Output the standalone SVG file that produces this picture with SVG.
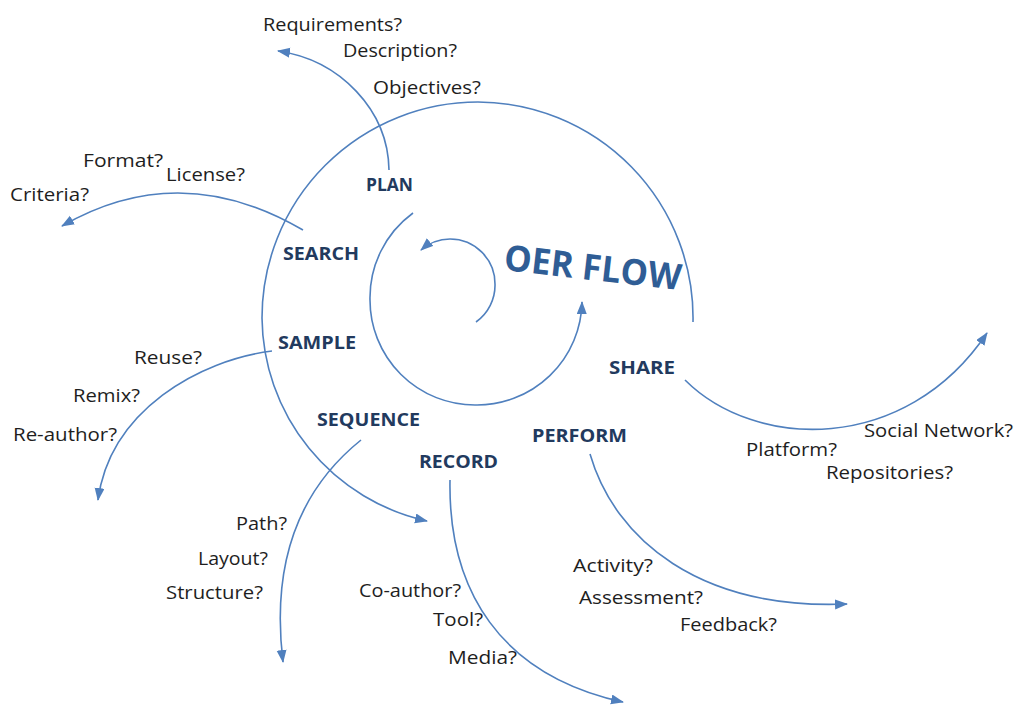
<svg xmlns="http://www.w3.org/2000/svg" width="1014" height="706" viewBox="0 0 1014 706">
  <style>
    .flow { fill: none; stroke: #5080BE; stroke-width: 1.6; }
    .node { font-family: "Open Sans", "Noto Sans", "Liberation Sans", sans-serif; font-weight: bold; font-size: 18.5px; fill: #223A5E; }
    .q { font-family: "Open Sans", "Noto Sans", "Liberation Sans", sans-serif; font-size: 19px; fill: #1E1E1E; }
    .title { font-family: "Open Sans", "Noto Sans", "Liberation Sans", sans-serif; font-weight: bold; font-size: 36px; fill: #2F5D95; }
  </style>
  <defs>
    <marker id="arrow" markerUnits="userSpaceOnUse" markerWidth="14" markerHeight="12" refX="12" refY="5" orient="auto">
      <path d="M0,0 L13,5 L0,10 Z" fill="#5080BE"/>
    </marker>
  </defs>
  <rect width="1014" height="706" fill="#FFFFFF"/>

  <!-- connectors: spiral and branch arrows -->
  <g id="connectors">
    <path class="flow" marker-end="url(#arrow)" d="M476,322 A45,45 0 0 0 495,284 A45,45 0 0 0 450,239 A45,45 0 0 0 421,250"/>
    <path class="flow" marker-end="url(#arrow)" d="M413,213 A105,105 0 0 0 370,300 A105,105 0 0 0 475,405 A105,105 0 0 0 582,302"/>
    <path class="flow" marker-end="url(#arrow)" d="M693,322 A216,216 0 0 0 478,102 A216,216 0 0 0 262,318 A210,210 0 0 0 427,521"/>
    <path class="flow" marker-end="url(#arrow)" d="M389,170 C388,110 340,60 278,51"/>
    <path class="flow" marker-end="url(#arrow)" d="M303,230 Q180,158 62,226"/>
    <path class="flow" marker-end="url(#arrow)" d="M272,351 C200,360 110,410 98,500"/>
    <path class="flow" marker-end="url(#arrow)" d="M361,440 C305,485 270,555 283,662"/>
    <path class="flow" marker-end="url(#arrow)" d="M450,480 C448,590 500,675 623,702"/>
    <path class="flow" marker-end="url(#arrow)" d="M590,454 C615,540 700,610 847,604"/>
    <path class="flow" marker-end="url(#arrow)" d="M685,380 C755,450 905,455 987,333"/>
  </g>

  <g id="title">
    <text class="title" x="503" y="270" transform="rotate(6.5 503 270)" textLength="178" lengthAdjust="spacingAndGlyphs">OER FLOW</text>
  </g>

  <g id="plan">
    <text class="node" x="366" y="191" textLength="47" lengthAdjust="spacingAndGlyphs">PLAN</text>
    <text class="q" x="263" y="31" textLength="139" lengthAdjust="spacingAndGlyphs">Requirements?</text>
    <text class="q" x="343" y="57" textLength="114" lengthAdjust="spacingAndGlyphs">Description?</text>
    <text class="q" x="373" y="94" textLength="108" lengthAdjust="spacingAndGlyphs">Objectives?</text>
  </g>

  <g id="search">
    <text class="node" x="283" y="260" textLength="76" lengthAdjust="spacingAndGlyphs">SEARCH</text>
    <text class="q" x="83" y="167" textLength="80" lengthAdjust="spacingAndGlyphs">Format?</text>
    <text class="q" x="166" y="181" textLength="79" lengthAdjust="spacingAndGlyphs">License?</text>
    <text class="q" x="10" y="201" textLength="79" lengthAdjust="spacingAndGlyphs">Criteria?</text>
  </g>

  <g id="sample">
    <text class="node" x="278" y="349" textLength="78" lengthAdjust="spacingAndGlyphs">SAMPLE</text>
    <text class="q" x="134" y="364" textLength="68" lengthAdjust="spacingAndGlyphs">Reuse?</text>
    <text class="q" x="73" y="402" textLength="67" lengthAdjust="spacingAndGlyphs">Remix?</text>
    <text class="q" x="13" y="441" textLength="104" lengthAdjust="spacingAndGlyphs">Re-author?</text>
  </g>

  <g id="sequence">
    <text class="node" x="317" y="426" textLength="103" lengthAdjust="spacingAndGlyphs">SEQUENCE</text>
    <text class="q" x="236" y="530" textLength="51" lengthAdjust="spacingAndGlyphs">Path?</text>
    <text class="q" x="198" y="565" textLength="70" lengthAdjust="spacingAndGlyphs">Layout?</text>
    <text class="q" x="166" y="599" textLength="97" lengthAdjust="spacingAndGlyphs">Structure?</text>
  </g>

  <g id="record">
    <text class="node" x="419" y="468" textLength="79" lengthAdjust="spacingAndGlyphs">RECORD</text>
    <text class="q" x="359" y="597" textLength="102" lengthAdjust="spacingAndGlyphs">Co-author?</text>
    <text class="q" x="433" y="626" textLength="50" lengthAdjust="spacingAndGlyphs">Tool?</text>
    <text class="q" x="448" y="664" textLength="69" lengthAdjust="spacingAndGlyphs">Media?</text>
  </g>

  <g id="perform">
    <text class="node" x="532" y="442" textLength="95" lengthAdjust="spacingAndGlyphs">PERFORM</text>
    <text class="q" x="573" y="572" textLength="80" lengthAdjust="spacingAndGlyphs">Activity?</text>
    <text class="q" x="579" y="604" textLength="124" lengthAdjust="spacingAndGlyphs">Assessment?</text>
    <text class="q" x="680" y="631" textLength="97" lengthAdjust="spacingAndGlyphs">Feedback?</text>
  </g>

  <g id="share">
    <text class="node" x="609" y="374" textLength="66" lengthAdjust="spacingAndGlyphs">SHARE</text>
    <text class="q" x="746" y="456" textLength="91" lengthAdjust="spacingAndGlyphs">Platform?</text>
    <text class="q" x="864" y="437" textLength="149" lengthAdjust="spacingAndGlyphs">Social Network?</text>
    <text class="q" x="826" y="479" textLength="127" lengthAdjust="spacingAndGlyphs">Repositories?</text>
  </g>
</svg>
